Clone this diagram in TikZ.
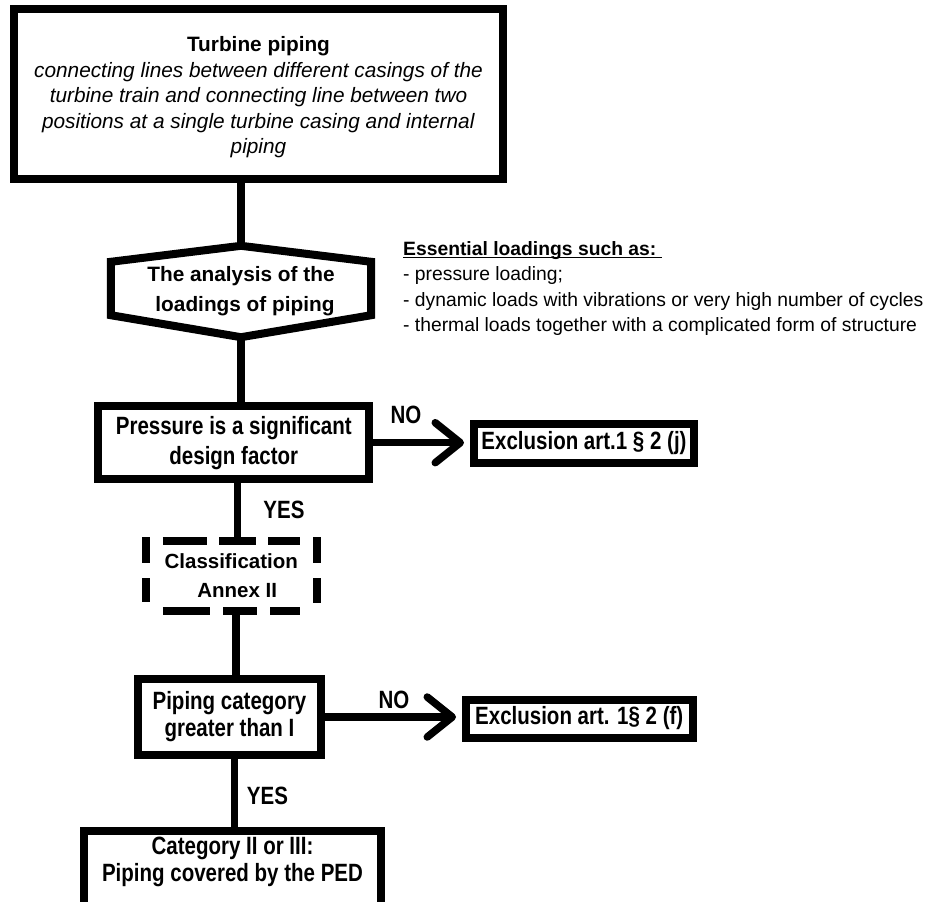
\documentclass[tikz,border=0pt]{standalone}
\usepackage{fontspec}
\setmainfont{Liberation Sans}
\newfontfamily\narrowfont[FakeStretch=0.82]{Liberation Sans}
\usetikzlibrary{arrows.meta,calc}
\newcommand\ulbox[1]{\setbox0\hbox{#1}\rlap{\rule[-3.2pt]{\wd0}{1.6pt}}\box0}
\begin{document}
\begin{tikzpicture}[x=1pt,y=-1pt,
  box/.style={draw, line width=8pt, rectangle, inner sep=0pt, align=center},
  conn/.style={line width=7.5pt},
  arr/.style={line width=7.5pt, -{Straight Barb[length=25pt,width=40pt,round]}, shorten >=6pt},
  narrowtxt/.style={font={\narrowfont\bfseries\fontsize{25}{27}\selectfont}},
  lbl/.style={narrowtxt, inner sep=0pt},
  dashseg/.style={line width=8pt}]
\useasboundingbox (0,0) rectangle (930,902);
\clip (0,0) rectangle (930,902);

% top box
\node[box, minimum width=489pt, minimum height=170pt,
      font={\fontsize{20.8}{25.5}\selectfont}] (top) at (258.5,94)
  {\rule{0pt}{22pt}\textbf{Turbine piping}\\
   \textit{connecting lines between different casings of the}\\
   \textit{turbine train and connecting line between two}\\
   \textit{positions at a single turbine casing and internal}\\
   \textit{piping}};

% hexagon
\node[inner sep=0pt, minimum width=260pt, minimum height=91pt, align=center,
      font={\bfseries\fontsize{20.8}{30}\selectfont}] (hex) at (241,291.5)
  {The analysis of the\\\hspace*{8pt}loadings of piping};
\draw[line width=8pt, line join=miter]
  ([yshift=-16pt]hex.north west) -- (hex.north) -- ([yshift=-16pt]hex.north east)
  -- ([yshift=22pt]hex.south east) -- (hex.south) -- ([yshift=22pt]hex.south west) -- cycle;

% essential loadings
\node[anchor=west, align=left, inner sep=0pt,
      font={\fontsize{19.3}{25.5}\selectfont}] (ess) at (403,288.5)
  {\ulbox{\textbf{Essential loadings such as:\ }}\\
   - pressure loading;\\
   - dynamic loads with vibrations or very high number of cycles\\
   - thermal loads together with a complicated form of structure};

% pressure box
\node[box, narrowtxt, font={\narrowfont\bfseries\fontsize{25}{30}\selectfont},
      minimum width=271pt, minimum height=73.3pt] (press) at (233.8,442.7)
  {Pressure is a significant\\design factor};
\node[box, narrowtxt, minimum width=220pt, minimum height=38.5pt] (ex1) at (584,443.25)
  {Exclusion art.1 § 2 (j)};

% classification (dashed)
\node[inner sep=0pt, minimum width=170.5pt, minimum height=70pt, align=center,
      font={\bfseries\fontsize{20.5}{29}\selectfont}] (cls) at (231.25,576)
  {Classification\\\hspace*{12pt}Annex II};
\begin{scope}[shift={(cls.center)}]
  \draw[dashseg] (-68.5,-35) -- (-24,-35) (-12,-35) -- (24.75,-35) (37,-35) -- (68.75,-35);
  \draw[dashseg] (-68.5,35) -- (-21.25,35) (-8,35) -- (25.5,35) (38.75,35) -- (68.75,35);
  \draw[dashseg] (-85.25,-39) -- (-85.25,-13) (-85.25,2.3) -- (-85.25,25.7);
  \draw[dashseg] (85.25,-39) -- (85.25,-12.7) (85.25,2.3) -- (85.25,27.3);
\end{scope}

% piping category
\node[box, narrowtxt, minimum width=183pt, minimum height=76pt] (pip) at (229.5,717)
  {Piping category\\greater than I};
\node[box, narrowtxt, minimum width=226.5pt, minimum height=38pt] (ex2) at (579.25,718.5)
  {Exclusion art. 1§ 2 (f)};

% bottom box
\node[box, minimum width=297pt, minimum height=76pt] (botbox) at (232.5,869) {};
\node[narrowtxt, inner sep=0pt, align=center] (bot) at ([yshift=7.5pt]botbox.center)
  {Category II or III:\\Piping covered by the PED};

% connectors
\draw[conn] (hex.north |- top.south) -- (hex.north);
\draw[conn] (hex.south) -- (hex.south |- press.north);
\draw[conn] (237.5,0 |- press.south) -- (237.5,0 |- cls.north);
\draw[conn] (236,0 |- cls.south) -- (236,0 |- pip.north);
\draw[conn] (234.5,0 |- pip.south) -- (234.5,0 |- botbox.north);
\draw[arr] (press.east) -- (press.east -| ex1.west);
\draw[arr] (pip.east) -- (pip.east -| ex2.west);

% labels
\node[lbl] (no1) at (406,415) {NO};
\node[lbl] (yes1) at (284,510) {YES};
\node[lbl] (no2) at (394,700) {NO};
\node[lbl] (yes2) at (267.5,796) {YES};
\end{tikzpicture}
\end{document}
